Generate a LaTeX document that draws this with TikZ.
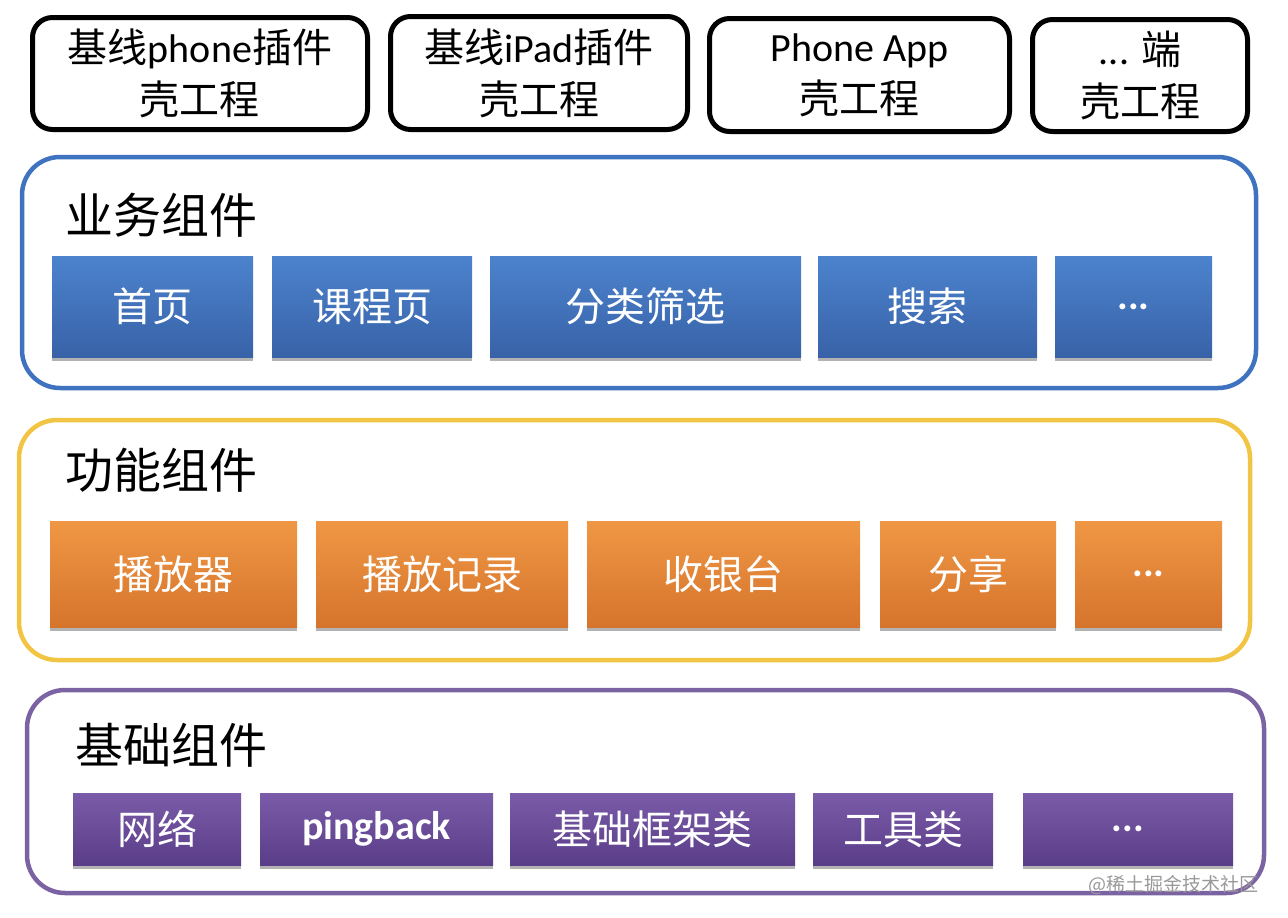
\documentclass[tikz,border=0pt]{standalone}
\usepackage{fontspec}
\setmainfont{Noto Sans CJK SC}
\newfontfamily\latfont{Carlito}
\usetikzlibrary{shadows}
\definecolor{bizline}{HTML}{3F73BF}
\definecolor{biztop}{HTML}{4C83CD}
\definecolor{bizbot}{HTML}{3862A8}
\definecolor{funline}{HTML}{F2C444}
\definecolor{funtop}{HTML}{EF9744}
\definecolor{funbot}{HTML}{D6742C}
\definecolor{basicline}{HTML}{7B62A3}
\definecolor{basictop}{HTML}{7A5BA9}
\definecolor{basicbot}{HTML}{5A3D88}
\tikzset{
  shellbox/.style={draw=black,line width=5pt,rounded corners=20pt,align=center,
    font=\fontsize{40}{52}\selectfont},
  layer/.style={draw=#1,line width=4.5pt,rounded corners=38pt},
  layertitle/.style={anchor=west,font=\fontsize{48}{50}\selectfont},
  block/.style={text=white,inner sep=0pt,font=\fontsize{40}{44}\selectfont,
    drop shadow={shadow xshift=0pt,shadow yshift=-4pt,opacity=.3,fill=black}},
  bizblock/.style={block,top color=biztop,bottom color=bizbot},
  funblock/.style={block,top color=funtop,bottom color=funbot},
  basicblock/.style={block,top color=basictop,bottom color=basicbot}
}
\begin{document}
\begin{tikzpicture}[x=1pt,y=-1pt]
  \useasboundingbox (0,0) rectangle (1288,918);
  % shells
  \path (200,73.5) node[shellbox,minimum width=335pt,minimum height=112pt](shellphone){基线{\latfont phone}插件\\壳工程};
  \path (539,73) node[shellbox,minimum width=297pt,minimum height=113pt](shellpad){基线{\latfont iPad}插件\\壳工程};
  \path (859.5,75) node[shellbox,minimum width=300pt,minimum height=113pt](shellapp){{\latfont Phone App}\\壳工程};
  \path (1140,75.5) node[shellbox,minimum width=215pt,minimum height=112pt](shellmore){{\latfont ...} 端\\壳工程};
  % business layer
  \path (639,272.5) node[layer=bizline,minimum width=1234pt,minimum height=231pt](biz){};
  \path (62,215) node[layertitle](biztitle){业务组件};
  \path (152.5,306.5) node[bizblock,minimum width=201pt,minimum height=101pt](home){首页};
  \path (372,306.5) node[bizblock,minimum width=200pt,minimum height=101pt](course){课程页};
  \path (645.5,306.5) node[bizblock,minimum width=311pt,minimum height=101pt](filter){分类筛选};
  \path (927.5,306.5) node[bizblock,minimum width=219pt,minimum height=101pt](search){搜索};
  \path (1133.5,306.5) node[bizblock,minimum width=157pt,minimum height=101pt](bizmore){\latfont\bfseries ...};
  % function layer
  \path (634.5,540) node[layer=funline,minimum width=1231pt,minimum height=240pt](fun){};
  \path (62,470) node[layertitle](funtitle){功能组件};
  \path (173.5,574) node[funblock,minimum width=247pt,minimum height=106pt](player){播放器};
  \path (442,574) node[funblock,minimum width=252pt,minimum height=106pt](history){播放记录};
  \path (723.5,574) node[funblock,minimum width=273pt,minimum height=106pt](cashier){收银台};
  \path (968,574) node[funblock,minimum width=176pt,minimum height=106pt](share){分享};
  \path (1148.5,574) node[funblock,minimum width=147pt,minimum height=106pt](funmore){\latfont\bfseries ...};
  % basic layer
  \path (645.5,791.5) node[layer=basicline,minimum width=1237pt,minimum height=203pt](basic){};
  \path (72,745) node[layertitle](basictitle){基础组件};
  \path (157,829) node[basicblock,minimum width=168pt,minimum height=72pt](network){网络};
  \path (376.5,829) node[basicblock,minimum width=233pt,minimum height=72pt](ping){\latfont\bfseries pingback};
  \path (652.5,829) node[basicblock,minimum width=285pt,minimum height=72pt](frame){基础框架类};
  \path (903,829) node[basicblock,minimum width=180pt,minimum height=72pt](tools){工具类};
  \path (1128,829) node[basicblock,minimum width=210pt,minimum height=72pt](basicmore){\latfont\bfseries ...};
  \path (1262,885) node[anchor=east,text=black!40,font=\fontsize{19}{20}\selectfont](mark){@稀土掘金技术社区};
\end{tikzpicture}
\end{document}
